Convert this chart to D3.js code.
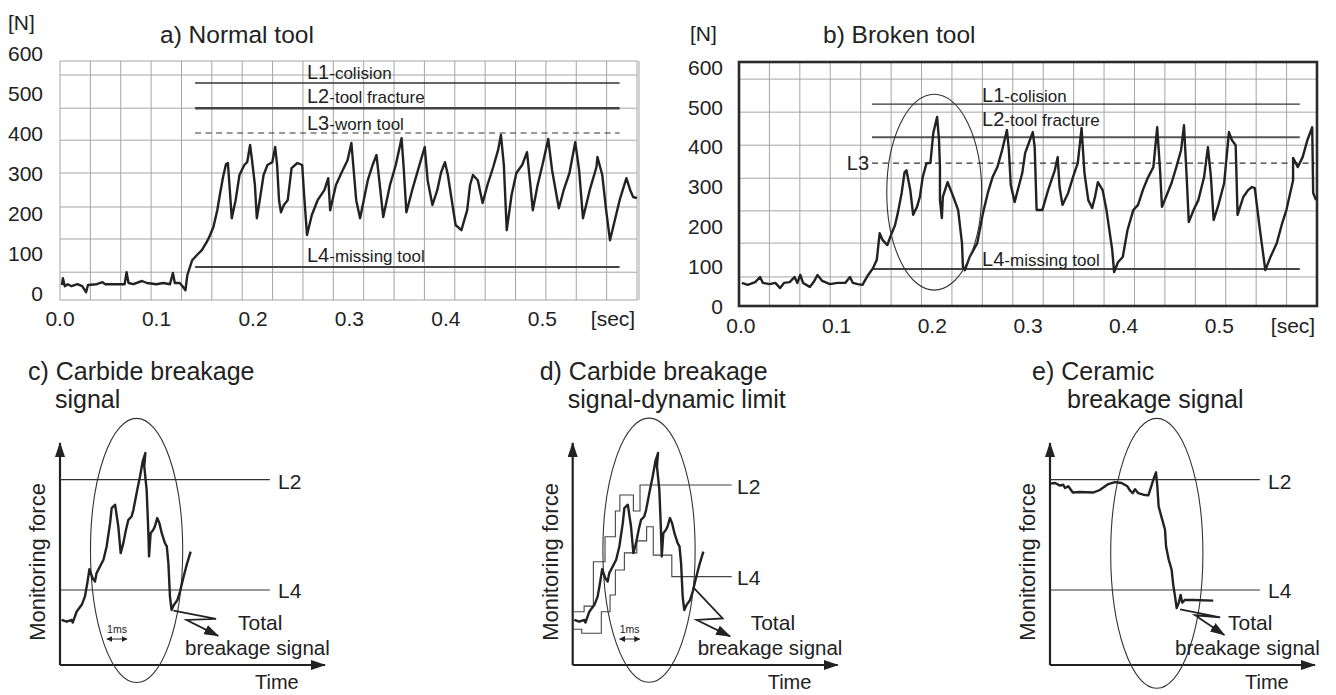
<!DOCTYPE html>
<html><head><meta charset="utf-8">
<script src="https://cdn.jsdelivr.net/npm/d3@7"></script>
<style>
body{margin:0;background:#fff;}
svg{display:block;font-family:"Liberation Sans",Arial,sans-serif;}
</style></head><body>
<svg id="fig" width="1336" height="695"></svg>
<script>
// ---------------- DATA ----------------
const forceTicks = [0,100,200,300,400,500,600];
const timeTicks = [0,0.1,0.2,0.3,0.4,0.5];
const timeTickLabels = ["0.0","0.1","0.2","0.3","0.4","0.5"];
const gridColumns = 19;
const gridNormalForce = [545,462,382,300,215,135,52];
const gridBrokenForce = [570,487,404,321,239,158,73];

const limitNames = ["L1","L2","L3","L4"];
const limitDescs = ["-colision","-tool fracture","-worn tool","-missing tool"];
const limitsNormal = [525,462,400,65];
const limitsBroken = [507,424,359,93];

const panelTitles = ["a) Normal tool","b) Broken tool"];
const sketchTitles = [["c) Carbide breakage","signal"],["d) Carbide breakage","signal-dynamic limit"],["e) Ceramic","breakage signal"]];

// time [s], force [N]
const normalSignal = [[0.002,20],[0.003,37],[0.005,17],[0.008,22],[0.012,17],[0.018,22],[0.023,17],[0.027,2],[0.029,20],[0.038,22],[0.044,27],[0.047,22],[0.055,22],[0.062,22],[0.067,22],[0.069,52],[0.071,25],[0.076,22],[0.085,30],[0.090,25],[0.100,22],[0.107,25],[0.114,22],[0.117,50],[0.119,25],[0.124,25],[0.127,17],[0.130,7],[0.132,45],[0.137,82],[0.142,95],[0.147,107],[0.152,127],[0.155,142],[0.159,165],[0.163,207],[0.166,250],[0.169,290],[0.172,322],[0.174,325],[0.176,257],[0.178,187],[0.182,232],[0.186,295],[0.191,320],[0.194,327],[0.197,370],[0.199,332],[0.202,270],[0.204,187],[0.207,232],[0.211,295],[0.215,320],[0.220,327],[0.223,365],[0.225,320],[0.227,232],[0.229,202],[0.232,220],[0.236,232],[0.240,312],[0.246,325],[0.251,320],[0.253,245],[0.256,145],[0.261,195],[0.267,232],[0.274,257],[0.278,287],[0.280,207],[0.286,270],[0.292,302],[0.298,332],[0.302,375],[0.307,232],[0.311,187],[0.319,282],[0.324,320],[0.328,345],[0.332,257],[0.335,190],[0.342,270],[0.348,320],[0.354,387],[0.356,320],[0.359,202],[0.365,257],[0.371,307],[0.378,365],[0.381,282],[0.386,220],[0.391,257],[0.395,302],[0.399,327],[0.402,295],[0.406,232],[0.410,170],[0.416,157],[0.422,207],[0.425,270],[0.428,295],[0.433,282],[0.438,225],[0.443,270],[0.449,315],[0.454,357],[0.457,395],[0.460,320],[0.463,157],[0.468,245],[0.473,300],[0.479,320],[0.484,352],[0.487,282],[0.490,207],[0.495,270],[0.500,320],[0.506,385],[0.510,307],[0.517,212],[0.522,257],[0.528,300],[0.534,377],[0.538,307],[0.542,187],[0.549,257],[0.556,315],[0.557,340],[0.562,295],[0.566,207],[0.570,132],[0.575,182],[0.580,232],[0.587,287],[0.591,257],[0.594,240],[0.598,237]];

const brokenSignal = [[0.001,58],[0.007,53],[0.015,60],[0.020,73],[0.023,58],[0.030,55],[0.036,58],[0.041,45],[0.045,58],[0.051,60],[0.056,73],[0.059,58],[0.062,78],[0.065,58],[0.072,48],[0.076,60],[0.080,78],[0.085,63],[0.093,55],[0.101,58],[0.109,58],[0.114,73],[0.117,58],[0.122,55],[0.127,53],[0.133,78],[0.138,95],[0.142,116],[0.145,183],[0.148,166],[0.153,153],[0.156,173],[0.161,203],[0.164,234],[0.168,284],[0.171,336],[0.173,341],[0.177,291],[0.180,229],[0.184,249],[0.187,274],[0.190,324],[0.194,359],[0.198,359],[0.201,434],[0.205,475],[0.207,417],[0.208,349],[0.208,266],[0.210,221],[0.211,274],[0.216,311],[0.222,274],[0.227,241],[0.231,158],[0.232,98],[0.234,90],[0.239,123],[0.247,158],[0.253,234],[0.258,284],[0.263,324],[0.268,349],[0.273,392],[0.278,442],[0.280,392],[0.282,304],[0.286,261],[0.294,334],[0.297,384],[0.302,417],[0.305,437],[0.307,399],[0.309,241],[0.315,241],[0.321,291],[0.328,341],[0.331,374],[0.333,299],[0.336,254],[0.342,284],[0.347,324],[0.352,359],[0.356,447],[0.359,334],[0.363,266],[0.367,246],[0.370,274],[0.373,311],[0.378,291],[0.382,241],[0.388,141],[0.390,85],[0.394,110],[0.399,123],[0.404,191],[0.410,241],[0.415,254],[0.420,291],[0.425,321],[0.431,349],[0.435,449],[0.438,341],[0.440,249],[0.445,279],[0.450,309],[0.455,349],[0.460,392],[0.463,454],[0.466,316],[0.468,211],[0.473,241],[0.478,266],[0.484,324],[0.488,399],[0.491,329],[0.494,216],[0.499,254],[0.505,309],[0.510,437],[0.513,417],[0.517,404],[0.519,229],[0.525,274],[0.530,291],[0.534,299],[0.537,296],[0.542,198],[0.548,90],[0.553,121],[0.560,158],[0.565,203],[0.570,241],[0.577,316],[0.577,372],[0.582,349],[0.587,374],[0.592,417],[0.597,449],[0.598,284],[0.601,266]];
const brokenEllipse = {t:0.202, n:286, rt:0.0496, rn:246};

// schematic panels: time 0-100, force 0-100 (relative units)
const carbideSignal = [[0.6,20.3],[2.5,19.5],[4.4,20.3],[4.8,19.1],[6.3,24.1],[8.2,27.1],[9.4,30.8],[10.3,36.8],[11.1,43.2],[12.3,39.1],[13.2,37.6],[13.8,41.4],[16.4,47.4],[17.6,53.4],[18.9,63.9],[19.5,70.7],[20.8,72.2],[22.0,62.4],[22.9,50.4],[23.9,54.9],[24.9,60.9],[25.8,65.4],[27.0,66.9],[27.7,69.9],[28.9,77.4],[30.2,85.0],[31.2,91.7],[32.2,95.5],[31.8,89.5],[32.7,78.9],[33.3,60.9],[33.6,48.9],[34.2,59.4],[35.2,60.9],[35.8,62.4],[36.7,66.2],[37.5,63.9],[38.4,59.4],[39.6,54.9],[40.3,53.4],[40.9,45.9],[41.5,30.8],[42.1,24.8],[43.0,27.1],[44.3,29.3],[45.3,33.1],[46.5,39.1],[47.8,45.1],[49.3,51.1]];
const ceramicSignal = [[0,81.7],[1.9,82.0],[3.8,80.8],[5.0,81.2],[5.7,79.7],[6.9,80.5],[8.6,77.7],[11.3,77.9],[16.4,77.7],[18.9,78.9],[22.0,81.5],[24.5,82.4],[27.0,82.0],[29.2,80.5],[30.2,78.6],[31.2,77.4],[32.1,79.2],[33.3,77.4],[35.2,76.7],[37.1,76.4],[38.0,79.7],[39.2,84.2],[40.0,86.8],[40.5,80.5],[41.0,71.4],[42.3,65.7],[43.4,60.9],[43.8,53.4],[44.8,47.4],[45.9,42.9],[46.5,36.1],[47.2,30.8],[47.8,25.6],[48.6,28.1],[49.3,31.6],[49.9,28.1],[50.9,29.3],[54.1,29.3],[61.6,29.0]];
const dynamicUpper = [[0,24.0],[4.3,26.5],[7.8,46.5],[12.2,57.8],[16.1,69.4],[17.8,76.6],[22.9,69.4],[25.4,81.1],[60,81.1]];
const dynamicLower = [[0,16.1],[3.4,14.3],[10.8,24.0],[14.1,31.5],[16.1,42.8],[19.5,50.5],[24.2,55.9],[27.9,62.3],[30.4,49.5],[37.4,39.8],[60,39.8]];
const sketchLimits = [[83.5,33.8],[81.1,39.8],[83.5,33.8]];
const sketchEllipses = [{t:28.9,f:51.6,rt:17.4,rf:59.5},{t:28.8,f:51.7,rt:17.4,rf:59.5},{t:40.3,f:50.3,rt:17.4,rf:60.8}];
const breakArrows = [[[42.8,24.5],[58.9,20.8],[47.8,20.3],[59.7,13.1]],[[45.5,35.0],[56.6,21.0],[46.8,20.3],[59.4,12.9]],[[49.1,25.1],[64.2,21.5],[54.7,22.4],[65.8,13.5]]];
const msMark = [17.7,25.3];

// ---------------- DRAW ----------------
const ink = "#222";
const svg = d3.select("#fig");
const defs = svg.append("defs");
defs.append("marker").attr("id","ah").attr("viewBox","0 0 15 10").attr("refX",14).attr("refY",5)
  .attr("markerWidth",15).attr("markerHeight",10).attr("markerUnits","userSpaceOnUse").attr("orient","auto")
  .append("path").attr("d","M0,0L15,5L0,10z").attr("fill",ink);
defs.append("marker").attr("id","ahs").attr("viewBox","0 0 6 6").attr("refX",5.5).attr("refY",3)
  .attr("markerWidth",6).attr("markerHeight",6).attr("markerUnits","userSpaceOnUse").attr("orient","auto-start-reverse")
  .append("path").attr("d","M0,0L6,3L0,6z").attr("fill",ink);

function drawMain(o){
  const x = d3.scaleLinear().domain(o.tExt).range(o.xr);
  const y = d3.scaleLinear().domain(o.nExt).range(o.yr);
  const g = svg.append("g");
  const [x0,x1] = o.xr, [yb,yt] = o.yr;
  const col = d3.scaleLinear().domain([0,gridColumns]).range(o.xr);
  g.append("g").selectAll("line").data(d3.range(1,gridColumns)).join("line")
    .attr("x1",d=>col(d)).attr("x2",d=>col(d)).attr("y1",yb).attr("y2",yt)
    .attr("stroke","#a5a5a5").attr("stroke-width",1);
  g.append("g").selectAll("line").data(o.hGrid).join("line")
    .attr("x1",x0).attr("x2",x1).attr("y1",d=>y(d)).attr("y2",d=>y(d))
    .attr("stroke","#a5a5a5").attr("stroke-width",1);
  g.append("rect").attr("x",x0).attr("y",yt).attr("width",x1-x0).attr("height",yb-yt)
    .attr("fill","none").attr("stroke",o.border).attr("stroke-width",o.borderW);
  if(o.doubleRight) g.append("line").attr("x1",x1+2).attr("x2",x1+2).attr("y1",yt).attr("y2",yb).attr("stroke","#a5a5a5");
  // limits
  const lim = g.append("g");
  o.limits.forEach((v,i)=>{
    const l = lim.append("line").attr("x1",x(o.limStart)).attr("x2",x(i===2?o.l3End:o.limEnd))
      .attr("y1",y(v)).attr("y2",y(v)).attr("stroke",o.limColor[i]).attr("stroke-width",o.limW[i]);
    if(i===2) l.attr("stroke-dasharray","6,4.5").attr("stroke","#333");
    if(i===2 && o.shortL3){
      lim.append("text").attr("x",x(o.limStart)-3).attr("y",y(v)+7).attr("text-anchor","end")
        .attr("font-size",20).attr("fill",ink).text(limitNames[i]);
    } else {
      const t = lim.append("text").attr("x",x(o.labelT)).attr("y",y(v)+o.labOff[i]).attr("fill",ink);
      t.append("tspan").attr("font-size",20).text(limitNames[i]);
      t.append("tspan").attr("font-size",17).text(limitDescs[i]);
    }
  });
  // signal
  const line = d3.line().x(d=>x(d[0])).y(d=>y(d[1]));
  g.append("path").datum(o.signal).attr("d",line).attr("fill","none").attr("stroke",ink)
    .attr("stroke-width",2.4).attr("stroke-linejoin","round");
  if(o.ellipse){
    const e=o.ellipse;
    g.append("ellipse").attr("cx",x(e.t)).attr("cy",y(e.n)).attr("rx",x(e.t+e.rt)-x(e.t)).attr("ry",y(e.n)-y(e.n+e.rn))
      .attr("fill","none").attr("stroke","#333").attr("stroke-width",1.1);
  }
  // tick labels
  g.append("g").selectAll("text").data(forceTicks).join("text").attr("x",o.yLabX).attr("y",d=>y(d))
    .attr("dy","0.36em").attr("text-anchor","end").attr("font-size",21).attr("fill",ink).text(d=>d);
  g.append("g").selectAll("text").data(timeTicks).join("text").attr("x",d=>x(d)).attr("y",o.xLabY)
    .attr("text-anchor","middle").attr("font-size",21).attr("fill",ink).text((d,i)=>timeTickLabels[i]);
  g.append("text").attr("x",x1-24).attr("y",o.xLabY).attr("text-anchor","middle").attr("font-size",21).attr("fill",ink).text("[sec]");
  g.append("text").attr("x",o.unitX).attr("y",o.unitY).attr("font-size",21).attr("fill",ink).text("[N]");
  g.append("text").attr("x",o.titleX).attr("y",43).attr("font-size",24.5).attr("fill",ink).text(o.title);
}

drawMain({tExt:[0,0.598], nExt:[-17.5,580], xr:[60,637], yr:[300,61], hGrid:gridNormalForce,
  border:"#a5a5a5", borderW:1, doubleRight:true, limits:limitsNormal, limStart:0.140, limEnd:0.580, l3End:0.580,
  limColor:["#333","#444","#333","#444"], limW:[1.6,2.4,1.2,2.2], labelT:0.256, labOff:[-4,-5,-3,-5],
  signal:normalSignal, yLabX:43, xLabY:326, unitX:8, unitY:30, titleX:160, title:panelTitles[0]});

drawMain({tExt:[-0.002,0.602], nExt:[0,613], xr:[739,1317], yr:[306,62], hGrid:gridBrokenForce,
  border:"#2a2a2a", borderW:2.6, limits:limitsBroken, limStart:0.137, limEnd:0.584, l3End:0.600, shortL3:true,
  limColor:["#333","#555","#333","#444"], limW:[1.3,2.2,1.2,1.9], labelT:0.252, labOff:[-2,-11,0,-3],
  signal:brokenSignal, ellipse:brokenEllipse, yLabX:723, xLabY:333, unitX:690, unitY:41, titleX:823, title:panelTitles[1]});

function drawSketch(i, ox){
  const x = d3.scaleLinear().domain([0,100]).range([ox, ox+265]);
  const y = d3.scaleLinear().domain([0,100]).range([665,443]);
  const g = svg.append("g");
  const tl = [[-32,-5],[-33,-5],[-18,17]][i];
  g.append("text").attr("x",ox+tl[0]).attr("y",380).attr("font-size",25).attr("fill",ink).text(sketchTitles[i][0]);
  g.append("text").attr("x",ox+tl[1]).attr("y",408).attr("font-size",25).attr("fill",ink).text(sketchTitles[i][1]);
  // axes
  g.append("line").attr("x1",x(0)).attr("y1",y(0)).attr("x2",x(0)).attr("y2",y(100))
    .attr("stroke",ink).attr("stroke-width",2.2).attr("marker-end","url(#ah)");
  g.append("line").attr("x1",x(0)).attr("y1",y(0)).attr("x2",x(100)).attr("y2",y(0))
    .attr("stroke",ink).attr("stroke-width",2.2).attr("marker-end","url(#ah)");
  g.append("text").attr("transform",`translate(${x(0)-15},${y(46.4)}) rotate(-90)`).attr("text-anchor","middle")
    .attr("font-size",22).attr("fill",ink).text("Monitoring force");
  g.append("text").attr("x",ox+195).attr("y",689).attr("font-size",20).attr("fill",ink).text("Time");
  // limits
  const [l2,l4] = sketchLimits[i];
  const line = d3.line().x(d=>x(d[0])).y(d=>y(d[1]));
  const labT = i===1 ? 62 : 82.3;
  if(i===1){
    const step = d3.line().x(d=>x(d[0])).y(d=>y(d[1])).curve(d3.curveStepAfter);
    [dynamicUpper, dynamicLower].forEach(s=>g.append("path").datum(s).attr("d",step)
      .attr("fill","none").attr("stroke","#444").attr("stroke-width",1.1));
  } else {
    [l2,l4].forEach(v=>g.append("line").attr("x1",x(0)).attr("x2",x(79.2)).attr("y1",y(v)).attr("y2",y(v))
      .attr("stroke","#333").attr("stroke-width",1.1));
  }
  g.append("text").attr("x",x(labT)).attr("y",y(l2)+9).attr("font-size",21).attr("fill",ink).text("L2");
  g.append("text").attr("x",x(labT)).attr("y",y(l4)+8).attr("font-size",21).attr("fill",ink).text("L4");
  // ellipse
  const e = sketchEllipses[i];
  g.append("ellipse").attr("cx",x(e.t)).attr("cy",y(e.f)).attr("rx",x(e.t+e.rt)-x(e.t)).attr("ry",y(e.f)-y(e.f+e.rf))
    .attr("fill","none").attr("stroke","#333").attr("stroke-width",1.1);
  // signal
  g.append("path").datum(i===2?ceramicSignal:carbideSignal).attr("d",line).attr("fill","none")
    .attr("stroke",ink).attr("stroke-width",2.4).attr("stroke-linejoin","round");
  // breakage arrow
  g.append("path").datum(breakArrows[i]).attr("d",line).attr("fill","none").attr("stroke",ink)
    .attr("stroke-width",1.8).attr("stroke-linejoin","miter").attr("marker-end","url(#ah)");
  g.append("text").attr("x",ox+178).attr("y",630).attr("font-size",21).attr("fill",ink).text("Total");
  g.append("text").attr("x",ox+125).attr("y",655).attr("font-size",20.5).attr("fill",ink).text("breakage signal");
  if(i<2){
    g.append("line").attr("x1",x(msMark[0])).attr("x2",x(msMark[1])).attr("y1",y(11.7)).attr("y2",y(11.7))
      .attr("stroke",ink).attr("stroke-width",1).attr("marker-start","url(#ahs)").attr("marker-end","url(#ahs)");
    g.append("text").attr("x",x((msMark[0]+msMark[1])/2)).attr("y",y(14.4)).attr("text-anchor","middle")
      .attr("font-size",10.5).attr("fill",ink).text("1ms");
  }
}
drawSketch(0, 60);
drawSketch(1, 572.7);
drawSketch(2, 1050);
</script>
</body></html>
